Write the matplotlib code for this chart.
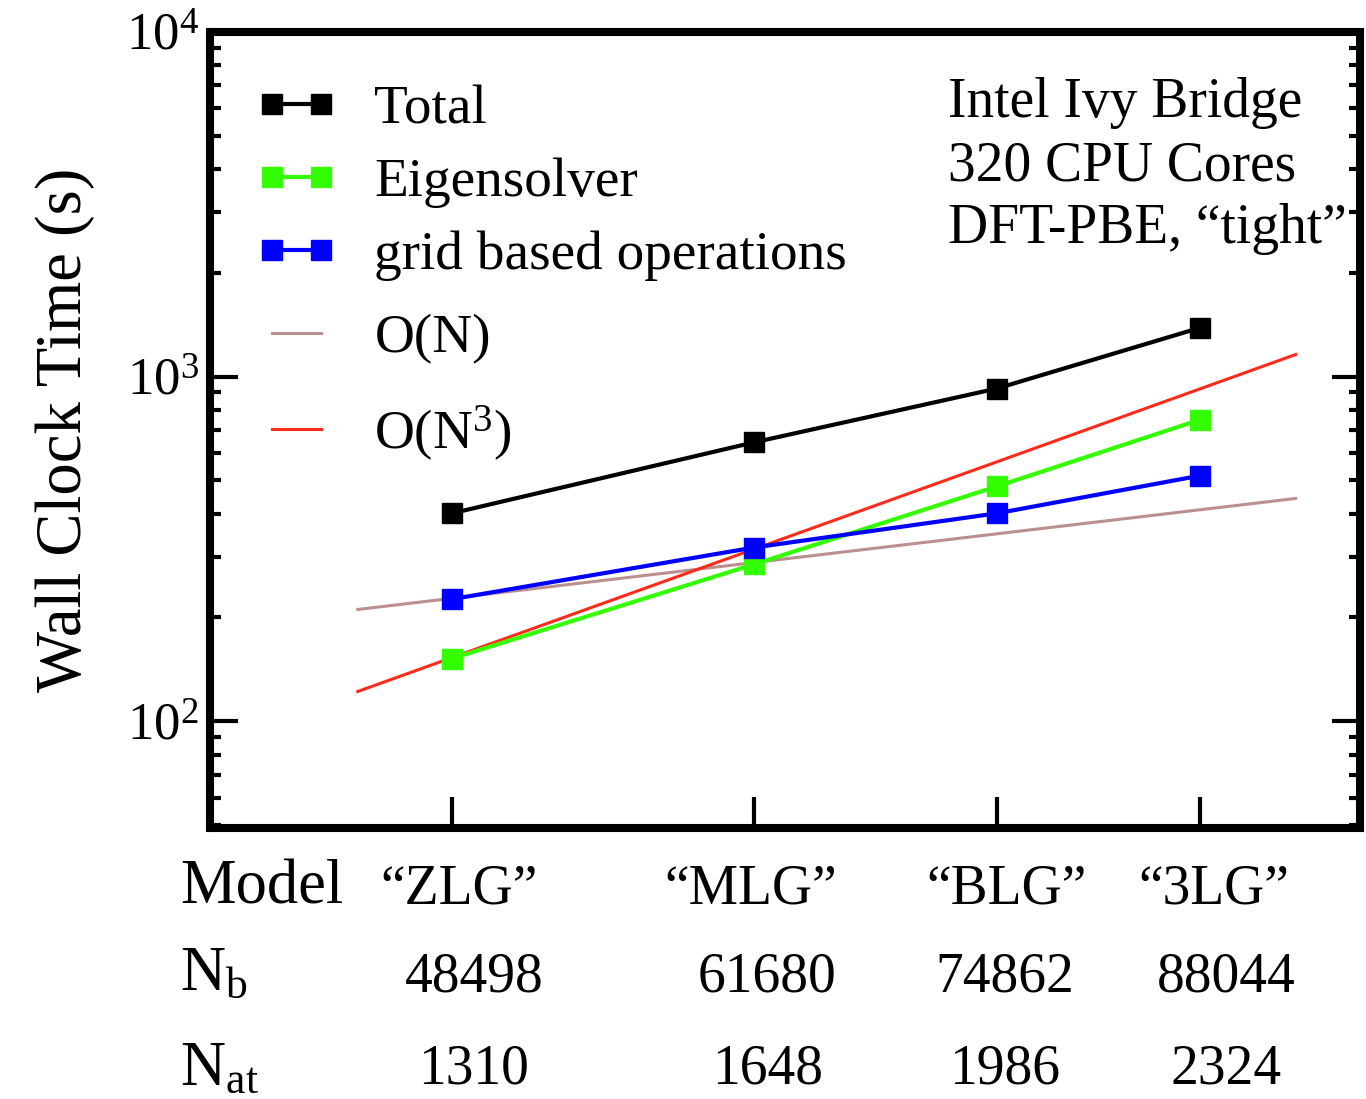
import matplotlib
matplotlib.use('Agg')
import matplotlib.pyplot as plt
from matplotlib.ticker import FixedLocator, NullLocator, LogLocator, NullFormatter, LogFormatterMathtext
import matplotlib.transforms as mtrans

plt.rcParams['font.family'] = ['Liberation Serif', 'DejaVu Serif']
plt.rcParams['mathtext.fontset'] = 'custom'
plt.rcParams['mathtext.rm'] = 'Liberation Serif'
plt.rcParams['mathtext.it'] = 'Liberation Serif:italic'

# data
modelos = ['\u201cZLG\u201d', '\u201cMLG\u201d', '\u201cBLG\u201d', '\u201c3LG\u201d']
nb = [48498, 61680, 74862, 88044]
nat = [1310, 1648, 1986, 2324]
total = [401, 644, 923, 1386]
eigen = [152, 285, 480, 750]
grid = [226, 319, 401, 516]
# guias de escala (pontos extremos)
on_x = [45000, 95000]
on_y = [211, 443]
on3_x = [45000, 95000]
on3_y = [122, 1159]

fig = plt.figure(figsize=(13.66, 10.99), dpi=100)
ax = fig.add_axes([0.1537, 0.2466, 0.8419, 0.7243])

l_on, = ax.plot(on_x, on_y, color='#bc8f8f', lw=2.2, label='O(N)', zorder=2)
l_on3, = ax.plot(on3_x, on3_y, color='#ff2a1a', lw=2.2, label='O(N$^3$)', zorder=2)
l_tot, = ax.plot(nb, total, color='black', lw=3, marker='s', ms=14, label='Total', zorder=3)
l_eig, = ax.plot(nb, eigen, color='#33ff00', lw=3, marker='s', ms=14, label='Eigensolver', zorder=3)
l_grd, = ax.plot(nb, grid, color='#0000ff', lw=3, marker='s', ms=14, label='grid based operations', zorder=3)

ax.set_xscale('log')
ax.set_yscale('log')
ax.set_xlim(40000, 100000)
ax.set_ylim(49, 10000)

ax.xaxis.set_major_locator(FixedLocator(nb))
ax.xaxis.set_minor_locator(NullLocator())
ax.xaxis.set_major_formatter(NullFormatter())
ax.xaxis.set_minor_formatter(NullFormatter())
ax.yaxis.set_major_locator(LogLocator(base=10, numticks=10))
ax.yaxis.set_minor_locator(LogLocator(base=10, subs=range(2, 10), numticks=10))
ax.yaxis.set_major_formatter(LogFormatterMathtext())
ax.yaxis.set_minor_formatter(NullFormatter())

ax.tick_params(axis='x', which='major', direction='in', length=22, width=3, bottom=True, top=False)
ax.tick_params(axis='y', which='major', direction='in', length=20, width=3, left=True, right=True,
               labelsize=38, pad=8)
ax.tick_params(axis='y', which='minor', direction='in', length=8, width=3, left=True, right=True)

for s in ax.spines.values():
    s.set_linewidth(5.8)

ax.set_ylabel('Wall Clock Time (s)', fontsize=46.5, labelpad=22)

# leyendas
leg1 = ax.legend([l_tot, l_eig, l_grd], ['Total', 'Eigensolver', 'grid based operations'],
                 loc='upper left', bbox_to_anchor=(255 / 1366, 1 - 85 / 1099),
                 bbox_transform=fig.transFigure, frameon=False, fontsize=39.8,
                 borderpad=0, borderaxespad=0, handlelength=1.5, handletextpad=0.66,
                 labelspacing=0.40, numpoints=2, markerscale=1.0)
ax.add_artist(leg1)
ax.legend([l_on, l_on3], ['O(N)', 'O(N$^3$)'],
          loc='upper left', bbox_to_anchor=(255 / 1366, 1 - 314 / 1099),
          bbox_transform=fig.transFigure, frameon=False, fontsize=39.8,
          borderpad=0, borderaxespad=0, handlelength=1.5, handletextpad=0.66,
          labelspacing=0.70, numpoints=2)

info = ['Intel Ivy Bridge', '320 CPU Cores', 'DFT-PBE, \u201ctight\u201d']
info_y = [117, 180, 243]
for t, yy in zip(info, info_y):
    fig.text(948 / 1366, 1 - yy / 1099, t, fontsize=40, va='baseline', ha='left')

# tabla debajo del eje
trans = mtrans.blended_transform_factory(ax.transData, fig.transFigure)
fig.text(0.132, 1 - 889 / 1099, 'Model', fontsize=45, va='center', ha='left')
fig.text(0.132, 1 - 975 / 1099, 'N$_\\mathrm{b}$', fontsize=45, va='center', ha='left')
fig.text(0.132, 1 - 1070 / 1099, 'N$_\\mathrm{at}$', fontsize=45, va='center', ha='left')
desp_mod = [5, -2, 7, 10]
desp_num = [16, 10, 6, 19]
for i in range(len(nb)):
    ax.annotate(modelos[i], xy=(nb[i], 1 - 889 / 1099), xycoords=trans,
                xytext=(desp_mod[i], 0), textcoords='offset points',
                fontsize=40, ha='center', va='center', annotation_clip=False)
    ax.annotate(str(nb[i]), xy=(nb[i], 1 - 977 / 1099), xycoords=trans,
                xytext=(desp_num[i], 0), textcoords='offset points',
                fontsize=40, ha='center', va='center', annotation_clip=False)
    ax.annotate(str(nat[i]), xy=(nb[i], 1 - 1070 / 1099), xycoords=trans,
                xytext=(desp_num[i], 0), textcoords='offset points',
                fontsize=40, ha='center', va='center', annotation_clip=False)

fig.savefig('out.png', dpi=100)
